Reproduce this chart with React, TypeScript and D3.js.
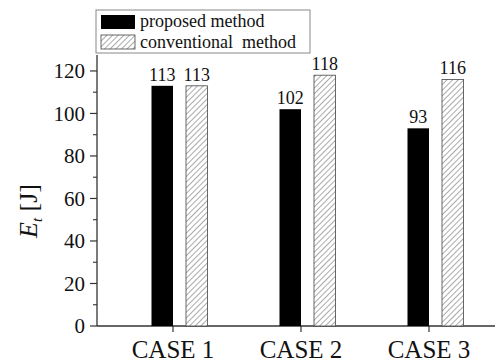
import * as d3 from "d3";
import React from "react";

const cases = ["CASE 1", "CASE 2", "CASE 3"];
const proposed = [113, 102, 93];
const conventional = [113, 118, 116];
const yTicks = [0, 20, 40, 60, 80, 100, 120];

const W = 500;
const H = 363;
const left = 97;
const right = 495;
const top = 55;
const bottom = 326;
const barW = 21.5;
const serif = "Liberation Serif, Times New Roman, serif";

export default function App() {
  const x = d3.scalePoint<string>().domain(cases).range([173, 429]);
  const y = d3.scaleLinear().domain([0, 127.5]).range([bottom, top]);
  const minor = d3.range(10, 130, 20);

  return (
    <svg
      width={W}
      height={H}
      style={{ position: "absolute", left: 0, top: 0, background: "#fff", fontFamily: serif }}
    >
      <defs>
        <pattern id="hatch" width="4" height="4" patternUnits="userSpaceOnUse" patternTransform="rotate(45)">
          <rect width="4" height="4" fill="#fff" />
          <line x1="0" y1="0" x2="0" y2="4" stroke="#555" strokeWidth="1" />
        </pattern>
      </defs>

      {/* axes */}
      <line x1={left} y1={top} x2={left} y2={bottom} stroke="#333" strokeWidth={1.3} />
      <line x1={left} y1={bottom} x2={right} y2={bottom} stroke="#333" strokeWidth={1.3} />

      {yTicks.map((t) => (
        <g key={t}>
          <line x1={left - 7} x2={left} y1={y(t)} y2={y(t)} stroke="#333" strokeWidth={1.2} />
          <text x={left - 12} y={y(t)} dy="0.35em" textAnchor="end" fontSize={21} fill="#111">
            {t}
          </text>
        </g>
      ))}
      {minor.map((t) => (
        <line key={t} x1={left - 4} x2={left} y1={y(t)} y2={y(t)} stroke="#333" strokeWidth={1.1} />
      ))}

      {cases.map((c) => (
        <g key={c}>
          <line x1={x(c)} x2={x(c)} y1={bottom} y2={bottom + 6} stroke="#333" strokeWidth={1.2} />
          <text x={x(c)} y={bottom + 32} textAnchor="middle" fontSize={25} fill="#111">
            {c}
          </text>
        </g>
      ))}

      {/* bars */}
      {cases.map((c, i) => {
        const x0 = x(c)! - barW;
        const x1 = x(c)! + 13;
        return (
          <g key={c}>
            <rect x={x0} y={y(proposed[i])} width={barW} height={bottom - y(proposed[i])} fill="#000" />
            <rect
              x={x1}
              y={y(conventional[i])}
              width={barW}
              height={bottom - y(conventional[i])}
              fill="url(#hatch)"
              stroke="#444"
              strokeWidth={0.8}
            />
            <text x={x0 + barW / 2} y={y(proposed[i]) - 5} textAnchor="middle" fontSize={18} fill="#111">
              {proposed[i]}
            </text>
            <text x={x1 + barW / 2} y={y(conventional[i]) - 5} textAnchor="middle" fontSize={18} fill="#111">
              {conventional[i]}
            </text>
          </g>
        );
      })}

      {/* y label */}
      <text transform={`translate(37,211) rotate(-90)`} textAnchor="middle" fontSize={26} fill="#111">
        <tspan fontStyle="italic">E</tspan>
        <tspan fontStyle="italic" fontSize={15} dy="5">t</tspan>
        <tspan dy="-5"> [J]</tspan>
      </text>

      {/* legend */}
      <rect x={96} y={10} width={214} height={43} fill="#fff" stroke="#888" strokeWidth={1} />
      <rect x={101} y={15} width={34} height={14} fill="#000" />
      <rect x={101} y={35} width={34} height={14} fill="url(#hatch)" stroke="#444" strokeWidth={0.8} />
      <text x={140} y={27} fontSize={18} fill="#111">proposed method</text>
      <text x={140} y={48} fontSize={18} fill="#111" style={{ whiteSpace: "pre" }}>
        {"conventional  method"}
      </text>
    </svg>
  );
}
